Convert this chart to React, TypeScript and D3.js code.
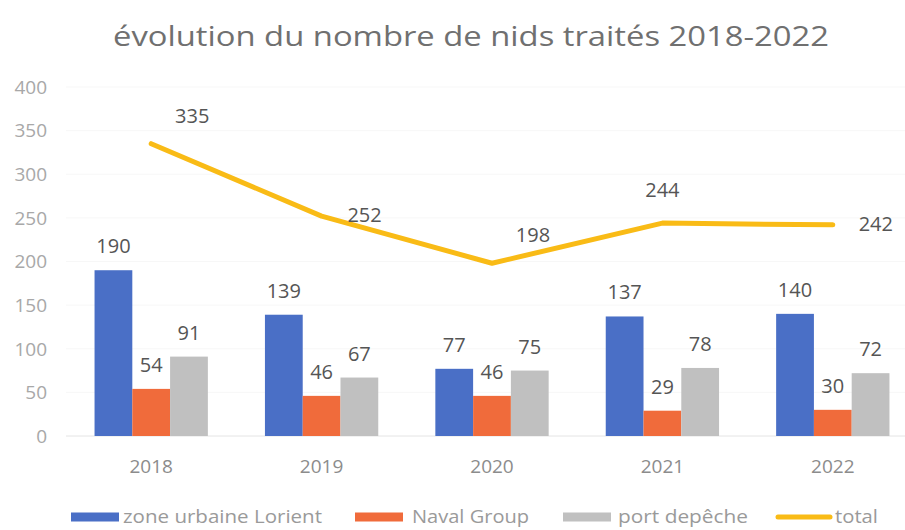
import React from "react";
import * as d3 from "d3";

const years = ["2018", "2019", "2020", "2021", "2022"];
const zoneUrbaine = [190, 139, 77, 137, 140];
const navalGroup = [54, 46, 46, 29, 30];
const portDepeche = [91, 67, 75, 78, 72];
const total = [335, 252, 198, 244, 242];
const yTicks = [0, 50, 100, 150, 200, 250, 300, 350, 400];
const seriesNames = ["zone urbaine Lorient", "Naval Group", "port depêche", "total"];
// label placement for total line (Excel style: right / above)
const totalLabelPos = ["aboveRight", "right", "aboveRight", "above", "right"];

const W = 905;
const H = 530;
const FONT = "'Open Sans', 'DejaVu Sans', sans-serif";
const colors = ["#4a6fc6", "#f06b3b", "#c0c0c0", "#f9bb16"];

export default function App() {
  const x = d3.scaleBand<string>().domain(years).range([66, 918]).paddingInner(0.335).paddingOuter(0.1675);
  const y = d3.scaleLinear().domain([0, 400]).range([436, 87]);
  const series = [zoneUrbaine, navalGroup, portDepeche];
  const sub = d3.scaleBand<number>().domain([0, 1, 2]).range([0, x.bandwidth()]).padding(0);
  const cx = (yr: string) => (x(yr) as number) + x.bandwidth() / 2;
  const line = d3
    .line<number>()
    .x((_, i) => cx(years[i]))
    .y((d) => y(d));

  const legendItems = [
    { name: seriesNames[0], sx: 71, tx: 123, tl: 199, type: "rect", c: colors[0] },
    { name: seriesNames[1], sx: 355, tx: 412, tl: 117, type: "rect", c: colors[1] },
    { name: seriesNames[2], sx: 563, tx: 618, tl: 130, type: "rect", c: colors[2] },
    { name: seriesNames[3], sx: 778, tx: 835, tl: 43, type: "line", c: colors[3] },
  ];
  const legendY = 517;

  return (
    <svg width={W} height={H} style={{ position: "absolute", left: 0, top: 0, background: "#fff" }} fontFamily={FONT}>
      <rect width={W} height={H} fill="#fff" />
      <text x={471} y={46} textAnchor="middle" fontSize={28} fill="#707070" textLength={716} lengthAdjust="spacingAndGlyphs">
        évolution du nombre de nids traités 2018-2022
      </text>
      {yTicks.map((t) => (
        <g key={t}>
          <line x1={66} x2={905} y1={y(t)} y2={y(t)} stroke={t === 0 ? "#e4e4e4" : "#f7f7f7"} strokeWidth={1} />
          <text x={47} y={y(t)} dy="0.36em" textAnchor="end" fontSize={19} fill="#a8a8a8">
            {t}
          </text>
        </g>
      ))}
      {years.map((yr) => (
        <text key={yr} x={cx(yr)} y={466} dy="0.36em" textAnchor="middle" fontSize={19} fill="#8c8c8c">
          {yr}
        </text>
      ))}
      {series.map((s, si) =>
        s.map((v, i) => {
          const bx = (x(years[i]) as number) + (sub(si) as number);
          return (
            <g key={si + "-" + i}>
              <rect x={bx} y={y(v)} width={sub.bandwidth()} height={y(0) - y(v)} fill={colors[si]} />
              <text x={bx + sub.bandwidth() / 2} y={y(v) - 17} textAnchor="middle" fontSize={20} fill="#555">
                {v}
              </text>
            </g>
          );
        })
      )}
      <path d={line(total) || ""} fill="none" stroke={colors[3]} strokeWidth={5} strokeLinejoin="round" strokeLinecap="round" />
      {total.map((v, i) => {
        const px = cx(years[i]);
        const py = y(v);
        const pos = totalLabelPos[i];
        let lx = px;
        let ly = py;
        if (pos === "right") {
          lx = px + 43;
          ly = py - 1;
        } else if (pos === "aboveRight") {
          lx = px + 41;
          ly = py - 28;
        } else {
          ly = py - 33;
        }
        return (
          <text key={i} x={lx} y={ly} dy="0.36em" textAnchor="middle" fontSize={20} fill="#555">
            {v}
          </text>
        );
      })}
      {legendItems.map((it) => (
        <g key={it.name}>
          {it.type === "rect" ? (
            <rect x={it.sx} y={legendY - 4.5} width={48} height={9} fill={it.c} />
          ) : (
            <line x1={it.sx} x2={it.sx + 52} y1={legendY} y2={legendY} stroke={it.c} strokeWidth={5} strokeLinecap="round" />
          )}
          <text x={it.tx} y={legendY} dy="0.36em" fontSize={18} fill="#9a9a9a" textLength={it.tl} lengthAdjust="spacingAndGlyphs">
            {it.name}
          </text>
        </g>
      ))}
    </svg>
  );
}
